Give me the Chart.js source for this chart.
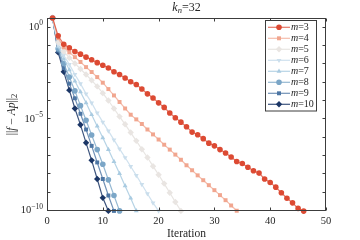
<!DOCTYPE html>
<html>
<head>
<meta charset="utf-8">
<script src="https://cdn.jsdelivr.net/npm/chart.js@4.4.0/dist/chart.umd.min.js"></script>
<style>
  html, body { margin: 0; padding: 0; background: #fff; }
  #wrap { width: 360px; height: 240px; }
</style>
</head>
<body>
<div id="wrap"><canvas id="residualChart" width="360" height="240"></canvas></div>
<script>
// Residual ||f - Ap||_2 against iteration, k_n = 32

const ITERATIONS = [1, 2, 3, 4, 5, 6, 7, 8, 9, 10, 11, 12, 13, 14, 15, 16, 17, 18, 19, 20,
  21, 22, 23, 24, 25, 26, 27, 28, 29, 30, 31, 32, 33, 34, 35, 36, 37, 38, 39, 40,
  41, 42, 43, 44, 45, 46];

const RES_M3 = [3.0, 3.2e-1, 1.1e-1, 7.1e-2, 4.5e-2, 3.2e-2, 2.2e-2, 1.6e-2, 1.1e-2, 7.9e-3,
  5.6e-3, 3.5e-3, 2.5e-3, 1.6e-3, 1.0e-3, 7.1e-4, 4.0e-4, 2.2e-4, 1.3e-4, 7.1e-5,
  4.0e-5, 2.0e-5, 1.1e-5, 6.3e-6, 3.5e-6, 1.8e-6, 1.3e-6, 7.9e-7, 4.5e-7, 3.2e-7,
  2.0e-7, 1.3e-7, 7.9e-8, 4.5e-8, 3.5e-8, 2.2e-8, 1.4e-8, 1.05e-8, 5.0e-9, 3.2e-9,
  1.8e-9, 8.9e-10, 4.5e-10, 2.5e-10, 1.25e-10, 8.9e-11];
const RES_M4 = [3.0, 2.4e-1, 7.6e-2, 4.0e-2, 2.2e-2, 1.2e-2, 6.3e-3, 3.4e-3, 1.8e-3, 8.9e-4,
  4.0e-4, 1.8e-4, 7.9e-5, 3.5e-5, 1.6e-5, 8.9e-6, 5.0e-6, 2.5e-6, 1.35e-6, 7.1e-7,
  3.7e-7, 2.0e-7, 1.07e-7, 5.6e-8, 2.8e-8, 1.5e-8, 7.9e-9, 4.3e-9, 2.3e-9, 1.23e-9,
  6.6e-10, 3.5e-10, 1.8e-10, 9.3e-11];
const RES_M5 = [3.0, 1.4e-1, 4.5e-2, 2.0e-2, 1.0e-2, 5.0e-3, 2.5e-3, 1.2e-3, 5.6e-4, 2.4e-4,
  9.5e-5, 3.5e-5, 1.26e-5, 4.8e-6, 1.7e-6, 6.0e-7, 2.1e-7, 7.4e-8, 2.5e-8, 8.5e-9,
  2.8e-9, 8.9e-10, 2.8e-10, 9.1e-11];
const RES_M6 = [3.0, 1.0e-1, 2.8e-2, 8.9e-3, 2.5e-3, 7.9e-4, 2.2e-4, 7.1e-5, 2.0e-5, 6.3e-6,
  2.1e-6, 6.8e-7, 2.2e-7, 7.4e-8, 2.4e-8, 7.9e-9, 2.5e-9, 7.9e-10, 2.5e-10, 9.1e-11];
const RES_M7 = [3.0, 7.9e-2, 1.8e-2, 4.5e-3, 1.1e-3, 2.8e-4, 7.1e-5, 1.6e-5, 3.8e-6, 8.9e-7,
  2.0e-7, 4.5e-8, 1.0e-8, 2.1e-9, 4.5e-10, 9.1e-11];
const RES_M8 = [3.0, 6.3e-2, 1.0e-2, 1.8e-3, 3.2e-4, 5.0e-5, 7.9e-6, 1.26e-6, 2.0e-7, 3.2e-8,
  4.5e-9, 6.3e-10, 9.1e-11];
const RES_M9 = [3.0, 5.0e-2, 5.6e-3, 7.9e-4, 1.26e-4, 1.8e-5, 2.5e-6, 3.2e-7, 4.0e-8, 5.0e-9,
  6.3e-10, 9.1e-11];
const RES_M10 = [3.0, 4.0e-2, 3.5e-3, 3.5e-4, 3.5e-5, 4.5e-6, 4.7e-7, 5.2e-8, 5.0e-9, 4.7e-10,
  9.1e-11];

const M_VALUES = ['3', '4', '5', '6', '7', '8', '9', '10'];
const X_TICKS = [0, 10, 20, 30, 40, 50];
const Y_DECADES = [1, 1e-1, 1e-2, 1e-3, 1e-4, 1e-5, 1e-6, 1e-7, 1e-8, 1e-9, 1e-10];
const Y_LABELLED = [[1, '0'], [1e-5, '\u22125'], [1e-10, '\u221210']];

const SERIF = "'Liberation Serif', 'DejaVu Serif', serif";

// colour, point style, rotation for each m
const STYLES = [
  { color: '#dc4a33', line: 'rgba(220,74,51,0.75)', style: 'circle', rot: 0 },
  { color: '#f1a68f', line: 'rgba(241,166,143,0.75)', style: 'rect', rot: 0 },
  { color: '#e9e5e2', line: 'rgba(230,226,223,0.9)', style: 'rectRot', rot: 0 },
  { color: '#cadeec', line: 'rgba(202,222,236,0.9)', style: 'triangle', rot: 180 },
  { color: '#a9cbe1', line: 'rgba(169,203,225,0.85)', style: 'triangle', rot: 0 },
  { color: '#7ba6c7', line: 'rgba(123,166,199,0.8)', style: 'circle', rot: 0 },
  { color: '#4d76a4', line: 'rgba(77,118,164,0.8)', style: 'rect', rot: 0 },
  { color: '#1b3666', line: 'rgba(27,54,102,0.85)', style: 'rectRot', rot: 0 }
];

const SERIES = [RES_M3, RES_M4, RES_M5, RES_M6, RES_M7, RES_M8, RES_M9, RES_M10];

const datasets = SERIES.map((vals, k) => ({
  label: 'm=' + M_VALUES[k],
  data: vals.map((v, i) => ({ x: ITERATIONS[i], y: v })),
  borderColor: STYLES[k].line,
  borderWidth: 1.2,
  pointBackgroundColor: STYLES[k].color,
  pointBorderColor: STYLES[k].color,
  pointBorderWidth: 0,
  pointRadius: STYLES[k].style === 'rectRot' ? 3.2 : 2.8,
  pointStyle: STYLES[k].style,
  pointRotation: STYLES[k].rot,
  tension: 0,
  clip: false
}));

// draw text made of pieces [text, italic, size, dy]
function drawPieces(ctx, pieces, x, y, align) {
  let total = 0;
  pieces.forEach(p => {
    ctx.font = (p[1] ? 'italic ' : '') + p[2] + 'px ' + SERIF;
    p.w = ctx.measureText(p[0]).width;
    total += p.w;
  });
  let cx = align === 'center' ? x - total / 2 : (align === 'right' ? x - total : x);
  ctx.textAlign = 'left';
  pieces.forEach(p => {
    ctx.font = (p[1] ? 'italic ' : '') + p[2] + 'px ' + SERIF;
    ctx.fillText(p[0], cx, y + (p[3] || 0));
    cx += p.w;
  });
}

const axesDecor = {
  id: 'axesDecor',
  afterDatasetsDraw(chart) {
    const { ctx, chartArea: a, scales: { x, y } } = chart;
    ctx.save();
    ctx.strokeStyle = '#3c3c3c';
    ctx.lineWidth = 1;
    const L = Math.round(a.left) + 0.5, R = Math.round(a.right) - 0.5;
    const T = Math.round(a.top) + 0.5, B = Math.round(a.bottom) - 0.5;
    ctx.strokeRect(L, T, R - L, B - T);
    ctx.beginPath();
    X_TICKS.forEach(v => {
      const px = Math.round(x.getPixelForValue(v)) + 0.5;
      ctx.moveTo(px, B); ctx.lineTo(px, B - 3);
      ctx.moveTo(px, T); ctx.lineTo(px, T + 3);
    });
    Y_DECADES.forEach(v => {
      const py = Math.round(y.getPixelForValue(v)) + 0.5;
      ctx.moveTo(L, py); ctx.lineTo(L + 3, py);
      ctx.moveTo(R, py); ctx.lineTo(R - 3, py);
    });
    ctx.stroke();

    ctx.fillStyle = '#262626';
    ctx.textBaseline = 'middle';
    X_TICKS.forEach(v => {
      drawPieces(ctx, [[String(v), false, 10.5]], x.getPixelForValue(v), a.bottom + 10, 'center');
    });
    Y_LABELLED.forEach(([v, e]) => {
      drawPieces(ctx, [['10', false, 10.5], [e, false, 7.5, -4]], a.left - 4, y.getPixelForValue(v) + 0.5, 'right');
    });

    // axis titles
    drawPieces(ctx, [['Iteration', false, 11.5]], (a.left + a.right) / 2, 234, 'center');
    drawPieces(ctx, [['k', true, 12], ['n', true, 8.5, 3], ['=32', false, 12]], (a.left + a.right) / 2, 8, 'center');
    ctx.save();
    ctx.translate(12, (a.top + a.bottom) / 2);
    ctx.rotate(-Math.PI / 2);
    drawPieces(ctx, [['||', false, 11.5], ['f', true, 11.5], [' \u2212 ', false, 11.5], ['Ap', true, 11.5], ['||', false, 11.5], ['2', false, 8.5, 3]], 0, 0, 'center');
    ctx.restore();
    ctx.restore();
  }
};

const insideLegend = {
  id: 'insideLegend',
  afterDraw(chart) {
    const { ctx } = chart;
    const bx = 265.5, by = 20.5, bw = 51, bh = 90.5;
    ctx.save();
    ctx.fillStyle = '#ffffff';
    ctx.fillRect(bx, by, bw, bh);
    ctx.strokeStyle = '#3c3c3c';
    ctx.lineWidth = 1;
    ctx.strokeRect(bx, by, bw, bh);
    chart.data.datasets.forEach((ds, k) => {
      const ry = 27.3 + k * 11;
      ctx.strokeStyle = ds.borderColor;
      ctx.lineWidth = 1.2;
      ctx.beginPath();
      ctx.moveTo(268, ry); ctx.lineTo(290, ry);
      ctx.stroke();
      ctx.fillStyle = ds.pointBackgroundColor;
      ctx.strokeStyle = ds.pointBorderColor;
      Chart.helpers.drawPoint(ctx, {
        pointStyle: ds.pointStyle, radius: ds.pointRadius, rotation: ds.pointRotation, borderWidth: 0
      }, 279, ry);
      ctx.fillStyle = '#262626';
      ctx.textBaseline = 'middle';
      drawPieces(ctx, [['m', true, 10], ['=' + M_VALUES[k], false, 10]], 291, ry + 0.5, 'left');
    });
    ctx.restore();
  }
};

new Chart(document.getElementById('residualChart').getContext('2d'), {
  type: 'line',
  data: { datasets: datasets },
  options: {
    responsive: false,
    animation: false,
    devicePixelRatio: 1,
    layout: { padding: { top: 18, right: 34, left: 0, bottom: 0 } },
    plugins: { legend: { display: false }, tooltip: { enabled: false } },
    scales: {
      x: {
        type: 'linear', min: 0, max: 50,
        grid: { display: false }, border: { display: false },
        ticks: { display: false },
        afterFit(scale) { scale.height = 29; }
      },
      y: {
        type: 'logarithmic', min: 9e-11, max: 3.0,
        grid: { display: false }, border: { display: false },
        ticks: { display: false },
        afterFit(scale) { scale.width = 47; }
      }
    }
  },
  plugins: [axesDecor, insideLegend]
});
</script>
</body>
</html>
